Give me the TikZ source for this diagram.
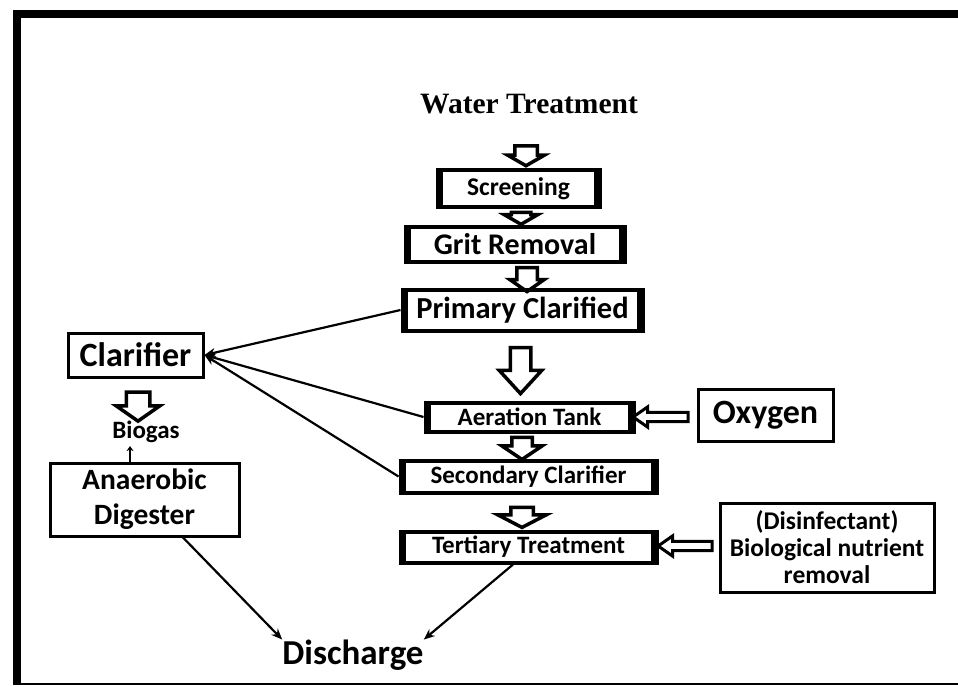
\documentclass[tikz,border=0pt]{standalone}
\usepackage{fontspec}
\setmainfont{Carlito}
\newfontfamily\timesf{Liberation Serif}
\usetikzlibrary{shapes.arrows,arrows.meta}
\begin{document}
\begin{tikzpicture}[x=1pt,y=-1pt,
  brk/.style={draw, line width=3pt, inner sep=0pt, font=\bfseries,
    path picture={
      \fill (path picture bounding box.north west) rectangle ([xshift=6pt]path picture bounding box.south west);
      \fill ([xshift=-6pt]path picture bounding box.north east) rectangle (path picture bounding box.south east);
      \fill (path picture bounding box.north west) rectangle ([yshift=-2.5pt]path picture bounding box.north east);
      \fill ([yshift=2.5pt]path picture bounding box.south west) rectangle (path picture bounding box.south east);
    }},
  plain/.style={draw, line width=3pt, inner sep=0pt, font=\bfseries, align=center},
  blk/.style n args={3}{single arrow, draw, line width=3.5pt,
    minimum height=#1, single arrow head extend=#2, single arrow tip angle=#3},
  bdown/.style={shape border rotate=270, inner xsep=#1, inner ysep=0pt},
  bleft/.style={shape border rotate=180, inner ysep=#1, inner xsep=0pt, line width=3pt},
  conn/.style={line width=2.2pt, -{Stealth[length=11pt,width=9pt]}},
  fs/.style={font=\bfseries\fontsize{#1}{#1}\selectfont}
]
\useasboundingbox (0,0) rectangle (958,686);
\fill[white] (0,0) rectangle (958,686);
% frame
\fill (13,10) rectangle (958,18);
\fill (13,10) rectangle (21,685);
\draw[line width=2pt] (13,684) -- (958,684);

% title
\node[font=\timesf\bfseries\fontsize{29.5}{29.5}\selectfont, inner sep=0pt] (wt) at (529,104) {Water Treatment};

% main chain boxes
\node[brk, fs=25.5, minimum width=163, minimum height=38] (scr) at (518.5,188.5) {Screening};
\node[brk, fs=30, minimum width=220, minimum height=36] (grit) at (515,244) {Grit Removal};
\node[brk, fs=30.5, minimum width=241, minimum height=42] (prim) at (522.5,310) {Primary Clarified};
\node[brk, fs=25, minimum width=209, minimum height=30] (aer) at (529.5,417) {Aeration Tank};
\node[brk, fs=25, minimum width=257, minimum height=33] (sec) at (528.5,476.5) {Secondary Clarifier};
\node[brk, fs=25, minimum width=257, minimum height=32] (ter) at (528.5,547) {Tertiary Treatment};

% side boxes
\node[plain, fs=34, minimum width=135, minimum height=52] (oxy) at (765.5,415) {Oxygen};
\node[plain, font=\bfseries\fontsize{25.5}{27}\selectfont, minimum width=214, minimum height=89] (dis) at (827,547.5) {(Disinfectant)\\Biological nutrient\\removal};
\node[plain, fs=34, minimum width=135, minimum height=44] (cla) at (135.5,355) {Clarifier};
\node[plain, font=\bfseries\fontsize{29.5}{35}\selectfont, minimum width=189, minimum height=73] (ana) at (144.5,499.5) {Anaerobic\\Digester};
\node[fs=25, inner sep=0pt] (bio) at (146,432) {Biogas};
\node[fs=35, inner sep=0pt] (dch) at (353,655) {Discharge};

% block arrows: length, head extend, tip angle; shaft half-width in bdown/bleft
\node[blk={20}{7}{120}, bdown=9.5] (a1) at (526,152.5) {};
\node[blk={12}{7}{120}, bdown=8] (a2) at (521,215.5) {};
\node[blk={24}{7}{110}, bdown=8.5] (a3) at (527,276) {};
\node[blk={46}{11}{85}, bdown=8.5] (a4) at (520.5,365) {};
\node[blk={22}{10}{112}, bdown=8.5] (a5) at (522,445) {};
\node[blk={20}{13}{125}, bdown=9.5] (a6) at (522,514.5) {};
\node[blk={29}{10}{110}, bdown=10] (a7) at (138,402.5) {};
\node[blk={55}{5.5}{70}, bleft=3.2] (a8) at (664,417) {};
\node[blk={54}{5.5}{70}, bleft=3.2] (a9) at (688.5,546) {};

% connectors to clarifier
\draw[conn] (prim.west) -- (cla.east);
\draw[conn] (aer.west) -- (cla.east);
\draw[conn] (sec.west) -- (cla.east);

% biogas small arrow
\draw[line width=1.5pt, -{Stealth[length=5pt,width=7pt]}] ([xshift=-14.5pt]ana.north) -- ([xshift=-16pt,yshift=-3pt]bio.south);

% discharge arrows
\draw[conn] ([xshift=38.5pt]ana.south) -- (dch.north west);
\draw[conn] ([xshift=-15.5pt]ter.south) -- (dch.north east);
\end{tikzpicture}
\end{document}
